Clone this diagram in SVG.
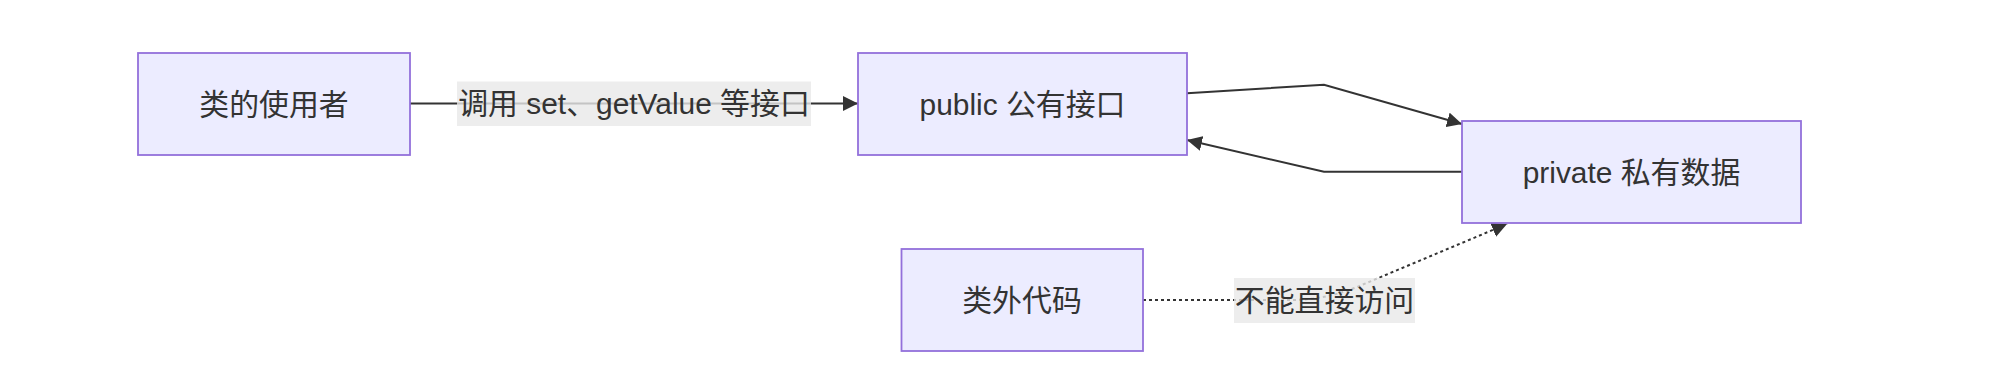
<svg xmlns="http://www.w3.org/2000/svg" width="2016" height="392" viewBox="0 0 2016 392">
<style>
.node rect{fill:#ECECFF;stroke:#9370DB;stroke-width:1.8}
text{font-family:"Liberation Sans","Noto Sans CJK SC",sans-serif;font-size:29.9px;fill:#333333;text-anchor:middle}
.edge{fill:none;stroke:#333333;stroke-width:2}
.dotted{stroke-dasharray:3 3}
.lbl{fill:#e8e8e8;fill-opacity:0.8}
</style>
<defs>
<marker id="arrow" viewBox="0 0 10 10" refX="10" refY="5" markerUnits="userSpaceOnUse" markerWidth="15" markerHeight="15" orient="auto">
<path d="M0,0 L10,5 L0,10 z" fill="#333333"/>
</marker>
</defs>
<rect width="2016" height="392" fill="#ffffff"/>
<g id="connectors">
<path class="edge" d="M410,103.5 L858,103.5" marker-end="url(#arrow)"/>
<path class="edge" d="M1187,93.3 L1324,84.7 L1462,124" marker-end="url(#arrow)"/>
<path class="edge" d="M1462,171.7 L1324,171.7 L1187,140" marker-end="url(#arrow)"/>
<path class="edge dotted" d="M1143,300 L1290,300 Q1325,300 1357,287 L1507,224" marker-end="url(#arrow)"/>
<g id="label-1">
<rect class="lbl" x="457" y="81.5" width="354" height="44.5"/>
<text x="634" y="114.2">调用 set、getValue 等接口</text>
</g>
<g id="label-2">
<rect class="lbl" x="1234" y="278" width="181" height="45"/>
<text x="1324.5" y="310.7">不能直接访问</text>
</g>
</g>
<g id="node-user" class="node">
<rect x="138" y="53" width="272" height="102"/>
<text x="274" y="114.7">类的使用者</text>
</g>
<g id="node-public" class="node">
<rect x="858" y="53" width="329" height="102"/>
<text x="1022.5" y="114.7">public 公有接口</text>
</g>
<g id="node-private" class="node">
<rect x="1462" y="121" width="339" height="102"/>
<text x="1631.5" y="182.7">private 私有数据</text>
</g>
<g id="node-outside" class="node">
<rect x="901.5" y="249" width="241.5" height="102"/>
<text x="1022" y="310.7">类外代码</text>
</g>
</svg>
